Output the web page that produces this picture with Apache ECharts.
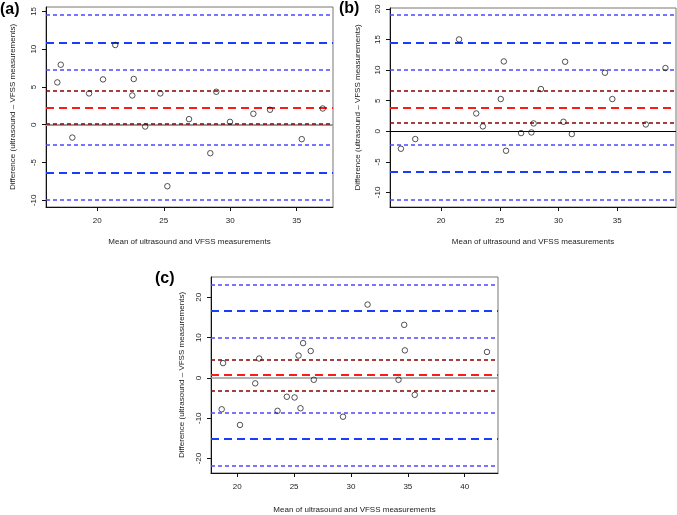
<!DOCTYPE html>
<html><head><meta charset="utf-8">
<script src="https://cdn.jsdelivr.net/npm/echarts@6/dist/echarts.min.js"></script>
<style>html,body{margin:0;padding:0;background:#fff}#c{width:677px;height:515px}</style>
</head><body><div id="c"></div>
<script>
// ---- Panel (a) data ----
const aX = [16.99,17.25,18.12,19.38,20.43,21.35,22.63,22.74,23.6,24.74,25.27,26.9,28.5,28.95,29.98,31.74,32.99,35.38,36.96];
const aY = [5.6,7.94,-1.7,4.14,6.0,10.55,3.87,6.05,-0.24,4.14,-8.14,0.74,-3.77,4.36,0.38,1.45,1.98,-1.91,2.15];
const aMean = [2.28];
const aMeanCI = [0.12, 4.45];
const aLoA = [10.9, -6.3];
const aLoACI = [14.58, 7.24, -2.67, -9.96];
const aXTicks = [20,25,30,35];
const aYTicks = [-10,-5,0,5,10,15];

// ---- Panel (b) data ----
const bX = [16.58,17.8,21.53,22.99,23.56,25.08,25.34,25.53,26.81,27.69,27.88,28.5,30.42,30.56,31.13,33.95,34.58,37.43,39.1];
const bY = [-2.86,-1.28,15.02,2.91,0.79,5.27,11.42,-3.19,-0.3,-0.19,1.28,6.9,1.55,11.37,-0.46,9.57,5.27,1.11,10.34];
const bMean = [3.9];
const bMeanCI = [1.34, 6.58];
const bLoA = [14.53, -6.68];
const bLoACI = [19.07, 10.02, -2.21, -11.2];
const bXTicks = [20,25,30,35];
const bYTicks = [-10,-5,0,5,10,15,20];

// ---- Panel (c) data ----
const cX = [18.75,18.63,20.24,21.58,21.93,23.54,24.36,25.04,25.39,25.56,25.79,26.46,26.73,29.3,31.46,34.18,34.68,34.74,35.61,41.96];
const cY = [3.68,-7.77,-11.66,-1.34,4.82,-8.16,-4.67,-4.84,5.55,-7.52,8.64,6.69,-0.46,-9.62,18.2,-0.46,13.17,6.84,-4.19,6.45];
const cMean = [0.72];
const cMeanCI = [4.5, -3.14];
const cLoA = [16.58, -15.2];
const cLoACI = [23.15, 10.0, -8.64, -21.8];
const cXTicks = [20,25,30,35,40];
const cYTicks = [-20,-10,0,10,20];

const xTitle = 'Mean of ultrasound and VFSS measurements';
const yTitle = 'Difference (ultrasound \u2013 VFSS measurements)';
const FONT = '"Liberation Sans", Arial, Helvetica, sans-serif';

const panels = [
  {X:aX,Y:aY,mean:aMean,meanCI:aMeanCI,loa:aLoA,loaCI:aLoACI,xt:aXTicks,yt:aYTicks,
   grid:{left:46,top:7,width:287,height:200}, xr:[16.14,37.73], yr:[-10.89,15.58],
   zero:{color:'#9a9a9a',width:2}, yGap:29, xGap:31},
  {X:bX,Y:bY,mean:bMean,meanCI:bMeanCI,loa:bLoA,loaCI:bLoACI,xt:bXTicks,yt:bYTicks,
   grid:{left:390,top:8,width:286,height:199}, xr:[15.65,40.0], yr:[-12.39,20.16],
   zero:{color:'#000',width:1}, yGap:28, xGap:31},
  {X:cX,Y:cY,mean:cMean,meanCI:cMeanCI,loa:cLoA,loaCI:cLoACI,xt:cXTicks,yt:cYTicks,
   grid:{left:211,top:277,width:287,height:200}, xr:[17.69,42.93], yr:[-23.58,25.04],
   zero:{color:'#9a9a9a',width:1.5}, yGap:25, xGap:33}
];

const grids=[], xAxes=[], yAxes=[], series=[];
function ml(vals, style){
  return vals.map(v => ({yAxis:v, lineStyle:style}));
}
panels.forEach((p,i)=>{
  grids.push(Object.assign({show:true, borderColor:'#777', borderWidth:1, backgroundColor:'transparent'}, p.grid));
  xAxes.push({type:'value', gridIndex:i, min:p.xr[0], max:p.xr[1],
    name:xTitle, nameLocation:'middle', nameGap:p.xGap,
    nameTextStyle:{fontFamily:FONT, fontSize:8, color:'#222'},
    axisLine:{show:true, onZero:false, lineStyle:{color:'#111', width:1}},
    axisTick:{show:true, length:4, customValues:p.xt, lineStyle:{color:'#111'}},
    axisLabel:{show:true, customValues:p.xt, margin:10, fontFamily:FONT, fontSize:8, color:'#222'},
    splitLine:{show:false}});
  yAxes.push({type:'value', gridIndex:i, min:p.yr[0], max:p.yr[1],
    name:yTitle, nameLocation:'middle', nameGap:p.yGap, nameRotate:90,
    nameTextStyle:{fontFamily:FONT, fontSize:8, color:'#222'},
    axisLine:{show:true, onZero:false, lineStyle:{color:'#111', width:1}},
    axisTick:{show:true, length:4, customValues:p.yt, lineStyle:{color:'#111'}},
    axisLabel:{show:true, customValues:p.yt, rotate:90, margin:8, fontFamily:FONT, fontSize:8, color:'#222'},
    splitLine:{show:false}});
  const pts = p.X.map((x,k)=>[x,p.Y[k]]);
  const longBlue = {color:'#1a3cff', width:2, type:[8,5]};
  const shortBlue = {color:'#4a4aff', width:1.5, type:[4,3]};
  const longRed = {color:'#ff1a1a', width:2, type:[8,5]};
  const shortDark = {color:'#8b0000', width:1.5, type:[4,3]};
  series.push({type:'scatter', xAxisIndex:i, yAxisIndex:i, data:pts, symbol:'circle', symbolSize:5.5,
    itemStyle:{color:'rgba(0,0,0,0)', borderColor:'#111', borderWidth:0.9}, z:5,
    markLine:{silent:true, symbol:['none','none'], label:{show:false}, animation:false,
      data: [].concat(
        [{yAxis:0, lineStyle:{color:p.zero.color, width:p.zero.width, type:'solid'}}],
        ml(p.loaCI, shortBlue), ml(p.loa, longBlue), ml(p.meanCI, shortDark), ml(p.mean, longRed))
    }});
});

const chart = echarts.init(document.getElementById('c'), null, {renderer:'canvas'});
chart.setOption({
  animation:false,
  backgroundColor:'#fff',
  grid:grids, xAxis:xAxes, yAxis:yAxes, series:series,
  graphic:[
    {type:'text', left:0, top:2, style:{text:'(a)', font:'bold 16px '+FONT, fill:'#000'}},
    {type:'text', left:339, top:1, style:{text:'(b)', font:'bold 16px '+FONT, fill:'#000'}},
    {type:'text', left:155, top:271, style:{text:'(c)', font:'bold 16px '+FONT, fill:'#000'}}
  ]
});
</script></body></html>
